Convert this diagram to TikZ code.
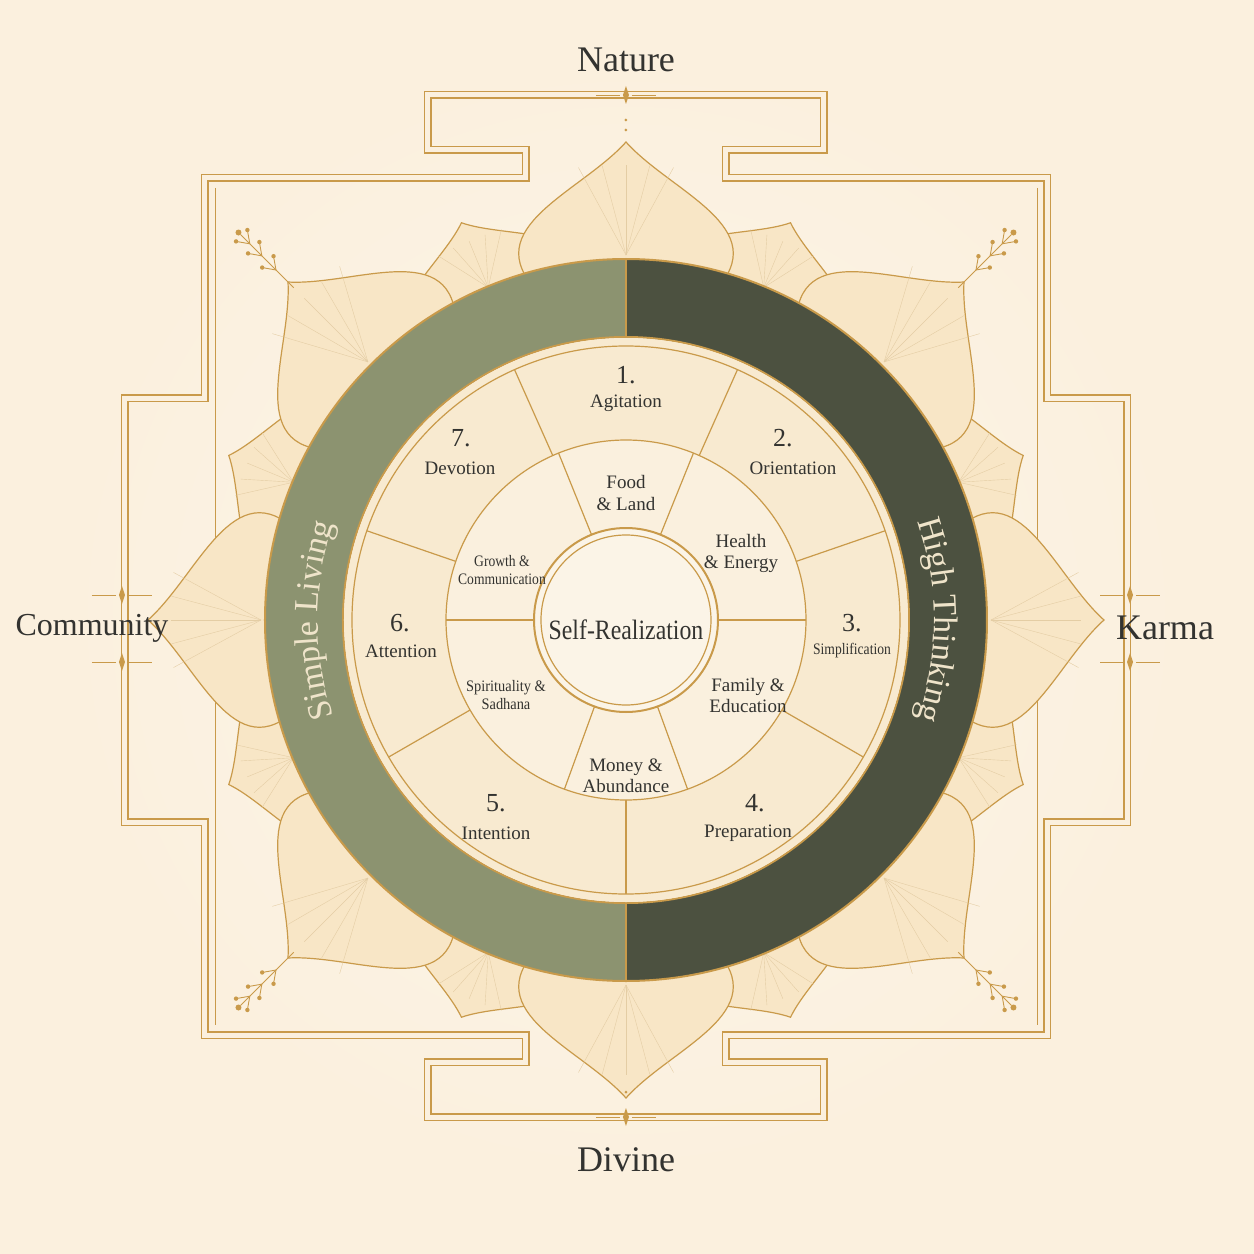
\documentclass[tikz,border=0pt]{standalone}
\usepackage{fontspec}
\setmainfont{Liberation Serif}
\usetikzlibrary{decorations.text}
\definecolor{bg}{HTML}{FBF0DE}
\definecolor{gold}{HTML}{C99A4A}
\definecolor{petal}{HTML}{F8E6C6}
\definecolor{lolive}{HTML}{8C9370}
\definecolor{dolive}{HTML}{4C5140}
\definecolor{inner}{HTML}{F8EAD0}
\definecolor{ink}{HTML}{333330}
\definecolor{cream}{HTML}{EFE4CA}
\begin{document}
\begin{tikzpicture}[x=1pt,y=1pt,
  lbl/.style={text=ink,font=\fontsize{19}{21}\selectfont,align=center,inner sep=0},
  num/.style={text=ink,font=\fontsize{26}{28}\selectfont,inner sep=0},
  sm/.style={text=ink,font=\fontsize{16}{18}\selectfont,align=center,inner sep=0},
  big/.style={text=ink,font=\fontsize{36}{38}\selectfont,inner sep=0},
  goldline/.style={draw=gold,line width=1.2pt}]
\fill[bg] (-626,-634) rectangle (628,620);
\useasboundingbox (-626,-634) rectangle (628,620);
\shade[inner color=white!40!bg,outer color=bg] (0,0) circle (560);
% border
\begin{scope}[shift={(-626,620)},yscale=-1]
\draw[draw=gold,line width=1.8pt,double=bg,double distance=5pt]
 (428,95)--(824,95)--(824,150)--(726,150)--(726,178)--(1047,178)--(1047,398)--(1127,398)--(1127,822)--(1047,822)--(1047,1035)--(726,1035)--(726,1062)--(824,1062)--(824,1117)--(428,1117)--(428,1062)--(526,1062)--(526,1035)--(205,1035)--(205,822)--(125,822)--(125,398)--(205,398)--(205,178)--(526,178)--(526,150)--(428,150)--cycle;
\draw[gold,line width=0.8pt] (215,188)--(215,1025) (1037,188)--(1037,1025);
\end{scope}
% petals
\foreach \a in {22.5,67.5,...,337.5}{
 \draw[goldline,fill=petal] (\a-14:340) .. controls (\a-19:395) and (\a-5:400) .. (\a:430) .. controls (\a+5:400) and (\a+19:395) .. (\a+14:340);
 \foreach \k in {-8,-4,0,4,8} \draw[gold!50,line width=0.4pt] (\a:360) -- (\a+\k*0.6:410);
}
\foreach \a in {0,45,...,315}{
 \draw[goldline,fill=petal] (\a-15:340) .. controls (\a-21:420) and (\a-6:430) .. (\a:478) .. controls (\a+6:430) and (\a+21:420) .. (\a+15:340);
 \foreach \k in {-10,-5,0,5,10} \draw[gold!50,line width=0.4pt] (\a:365) -- (\a+\k*0.6:455);
}
% corner sprigs
\foreach \a in {45,135,225,315}{
 \draw[gold,line width=1pt] (\a:470) -- (\a:545);
 \foreach \r in {495,515,532}{
  \draw[gold,line width=0.9pt] (\a:\r) -- ++(\a+35:14); \fill[gold] (\a:\r) ++(\a+35:14) circle (2.2);
  \draw[gold,line width=0.9pt] (\a:\r) -- ++(\a-35:14); \fill[gold] (\a:\r) ++(\a-35:14) circle (2.2);}
 \fill[gold] (\a:548) circle (3);
}
% ornaments
\foreach \p in {(0,525),(0,-497),(-504,25),(-504,-42),(504,25),(504,-42)}{
 \fill[gold] \p ++(0,9) -- ++(3,-9) -- ++(-3,-9) -- ++(-3,9) -- cycle;
 \draw[gold,line width=0.6pt] \p ++(-30,0) -- ++(24,0) \p ++(6,0) -- ++(24,0);
}
\fill[gold] (0,500) circle (1.5) (0,490) circle (1.5) (0,-472) circle (1.5);
% ring
\fill[lolive] (90:361) arc (90:270:361) -- (270:283) arc (270:90:283) -- cycle;
\fill[dolive] (90:361) arc (90:-90:361) -- (-90:283) arc (-90:90:283) -- cycle;
\draw[goldline,line width=2pt] (0,0) circle (361);
\draw[goldline,line width=2pt] (0,0) circle (283);
\draw[goldline] (0,283)--(0,361) (0,-283)--(0,-361);
\path[decorate,decoration={text along path,text align=center,
  text={|\fontsize{34}{34}\selectfont\color{cream}|Simple Living}}] (245:308) arc (245:115:308);
\path[decorate,decoration={text along path,text align=center,
  text={|\fontsize{34}{34}\selectfont\color{cream}|High Thinking}}] (65:308) arc (65:-65:308);
% inner
\fill[inner] (0,0) circle (282);
\draw[goldline] (0,0) circle (274);
\foreach \a in {270,330,19,66,114,161,210} \draw[goldline] (\a:180)--(\a:274);
\draw[goldline,fill=inner!70!white] (0,0) circle (180);
\foreach \a in {0,68,112,180,250,290} \draw[goldline] (\a:90)--(\a:180);
\draw[goldline,line width=2pt,fill=white!50!inner] (0,0) circle (92);
\draw[goldline] (0,0) circle (85);
\node[font=\fontsize{28}{30}\selectfont,text=ink,xscale=0.85] at (0,-10) {Self-Realization};
% labels
\node[num] at (0,245) {1.}; \node[lbl] at (0,217) {Agitation};
\node[num] at (157,182) {2.}; \node[lbl] at (167,152) {Orientation};
\node[num] at (226,-3) {3.}; \node[sm,xscale=0.85] at (226,-31) {Simplification};
\node[num] at (129,-183) {4.}; \node[lbl] at (122,-213) {Preparation};
\node[num] at (-130,-183) {5.}; \node[lbl] at (-130,-213) {Intention};
\node[num] at (-226,-3) {6.}; \node[lbl] at (-225,-31) {Attention};
\node[num] at (-165,182) {7.}; \node[lbl] at (-166,152) {Devotion};
\node[lbl] at (0,127) {Food\\\& Land};
\node[lbl] at (115,67) {Health\\\& Energy};
\node[sm,xscale=0.85] at (-124,50) {Growth \&\\Communication};
\node[sm,xscale=0.9] at (-120,-75) {Spirituality \&\\Sadhana};
\node[lbl] at (122,-75) {Family \&\\Education};
\node[lbl] at (0,-156) {Money \&\\Abundance};
\node[big] at (0,560) {Nature};
\node[big] at (0,-540) {Divine};
\node[big,font=\fontsize{32}{34}\selectfont] at (-534,-8) {Community};
\node[big] at (539,-8) {Karma};
\end{tikzpicture}
\end{document}
